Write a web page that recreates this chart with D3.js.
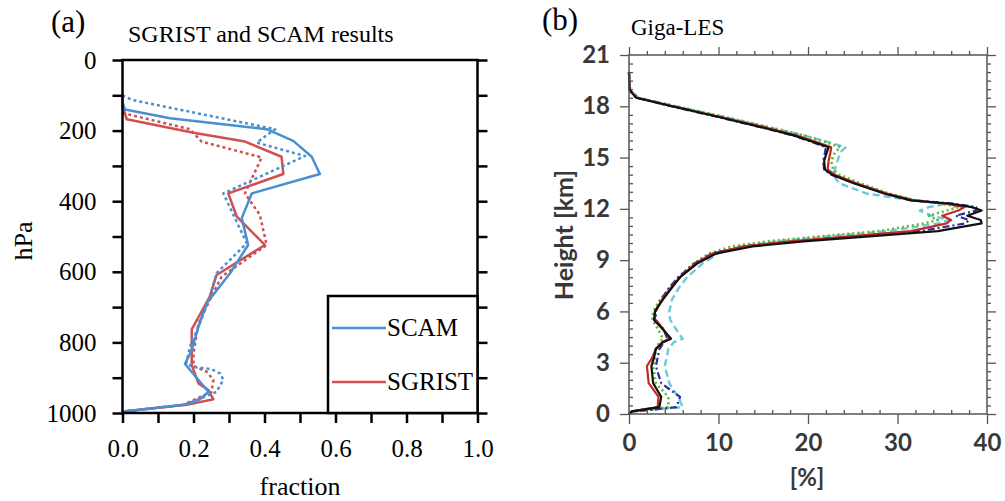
<!DOCTYPE html>
<html>
<head>
<meta charset="utf-8">
<script src="https://cdn.jsdelivr.net/npm/d3@7"></script>
<style>
  body { margin: 0; background: #fff; }
</style>
</head>
<body>
<div id="chart"></div>
<script>
// ---- panel (a) data: pressure levels (hPa) and cloud fraction ----
const scamSolidP = [100, 120, 140, 165, 196, 229, 274, 323, 378, 448, 524, 604, 689, 755, 822, 861, 940, 961, 977, 996, 1000];
const scamSolidF = [0, 0, 0.007, 0.134, 0.406, 0.481, 0.533, 0.556, 0.364, 0.336, 0.354, 0.303, 0.237, 0.214, 0.195, 0.176, 0.242, 0.218, 0.171, 0.002, 0];

const scamDotP = [100, 113, 137, 196, 234, 272, 378, 519, 604, 670, 746, 812, 861, 870, 876, 888, 906, 940, 975, 996, 1000];
const scamDotF = [0, 0.026, 0.143, 0.43, 0.378, 0.514, 0.284, 0.35, 0.265, 0.246, 0.218, 0.19, 0.179, 0.204, 0.251, 0.275, 0.284, 0.265, 0.181, 0.002, 0];

const sgristSolidP = [125, 142, 168, 206, 231, 274, 323, 378, 444, 524, 609, 670, 763, 864, 916, 935, 961, 977, 996, 1000];
const sgristSolidF = [0, 0.004, 0.012, 0.2, 0.345, 0.448, 0.453, 0.298, 0.322, 0.401, 0.265, 0.246, 0.195, 0.195, 0.214, 0.242, 0.256, 0.181, 0.002, 0];

const sgristDotP = [130, 151, 196, 231, 276, 378, 439, 524, 614, 680, 746, 831, 867, 883, 906, 940, 977, 996, 1000];
const sgristDotF = [0, 0.004, 0.19, 0.223, 0.392, 0.345, 0.387, 0.406, 0.279, 0.246, 0.214, 0.2, 0.2, 0.237, 0.256, 0.251, 0.171, 0.002, 0];

const aXTicks = [0, 0.1, 0.2, 0.3, 0.4, 0.5, 0.6, 0.7, 0.8, 0.9, 1.0];
const aXLabels = [0, 0.2, 0.4, 0.6, 0.8, 1.0];
const aYTicks = [0, 100, 200, 300, 400, 500, 600, 700, 800, 900, 1000];
const aYLabels = [0, 200, 400, 600, 800, 1000];
const legendNames = ["SCAM", "SGRIST"];

// ---- panel (b) data: height (km) and cloud fraction (%) ----
const bHeights = [20, 19, 18.8, 18.5, 18, 17.4, 16.7, 16.3, 15.9, 15.6, 15.3, 14.8, 14.3, 14, 13.5, 12.9, 12.5, 12.3, 12.1, 11.9, 11.6, 11.35, 11.15, 10.7, 10.4, 10.1, 9.8, 9.4, 8.8, 8, 7.4, 6.7, 6, 5.5, 5, 4.4, 4.2, 3.8, 3.3, 2.8, 1.8, 1, 0.4, 0.15, 0];
const bBlack = [0, 0.05, 0.3, 0.8, 4.8, 9.8, 15.4, 18.4, 20.7, 22.3, 22.1, 21.8, 21.9, 22.7, 25.1, 28.5, 31.5, 36.0, 38.3, 39.4, 37.8, 39.3, 39.4, 34.5, 27.2, 19.5, 13.8, 9.8, 7.6, 5.7, 4.8, 3.8, 2.9, 2.8, 3.7, 4.7, 3.8, 3.0, 2.8, 2.5, 2.7, 3.6, 3.4, 0.3, 0];
const bRed = [0, 0.05, 0.3, 0.9, 4.9, 10.0, 15.7, 18.7, 21.0, 22.6, 22.5, 22.3, 22.2, 23.0, 25.4, 28.8, 31.8, 35.5, 37.5, 36.8, 35.0, 36.0, 35.5, 31.5, 25.0, 18.0, 12.8, 9.4, 7.4, 5.7, 4.7, 3.7, 2.9, 2.9, 3.8, 4.5, 3.7, 3.0, 2.6, 2.0, 2.2, 3.3, 3.2, 0.3, 0];
const bBlue = [0, 0.05, 0.3, 0.8, 4.7, 9.7, 15.3, 18.3, 20.5, 22.0, 21.9, 21.7, 21.8, 22.6, 25.2, 28.7, 31.8, 36.3, 38.8, 38.8, 36.5, 38.0, 37.6, 32.5, 25.5, 18.2, 12.8, 9.3, 7.3, 5.5, 4.5, 3.6, 3.0, 3.0, 3.8, 4.3, 3.9, 3.4, 3.2, 3.0, 3.6, 5.7, 5.3, 0.5, 0];
const bGreen = [0, 0.1, 0.4, 1.0, 5.2, 10.5, 16.3, 19.5, 22.0, 23.6, 23.0, 22.6, 22.8, 23.5, 25.8, 29.0, 32.0, 35.0, 36.8, 35.5, 33.5, 34.5, 33.0, 28.0, 21.5, 15.5, 11.5, 9.0, 7.2, 5.5, 4.6, 3.5, 2.7, 2.6, 3.2, 3.8, 3.4, 3.0, 2.9, 2.7, 3.0, 4.4, 4.4, 0.4, 0];
const bCyan = [0, 0.1, 0.4, 1.1, 5.3, 10.4, 16.2, 19.5, 22.3, 24.2, 23.6, 23.3, 23.0, 22.8, 23.5, 26.5, 31.5, 35.5, 33.5, 32.5, 33.8, 35.8, 34.5, 29.0, 22.5, 16.5, 12.5, 10.0, 8.2, 6.5, 5.6, 4.8, 4.5, 4.6, 5.2, 6.0, 5.0, 4.4, 4.2, 4.0, 4.5, 5.5, 6.0, 0.5, 0];

const bXTicks = [0, 10, 20, 30, 40];
const bXMinor = [2, 4, 6, 8, 12, 14, 16, 18, 22, 24, 26, 28, 32, 34, 36, 38];
const bYTicks = [0, 3, 6, 9, 12, 15, 18, 21];
const bYMinor = [0.5, 1, 1.5, 2, 2.5, 3.5, 4, 4.5, 5, 5.5, 6.5, 7, 7.5, 8, 8.5, 9.5, 10, 10.5, 11, 11.5, 12.5, 13, 13.5, 14, 14.5, 15.5, 16, 16.5, 17, 17.5, 18.5, 19, 19.5, 20, 20.5];

const serif = "'Liberation Serif', 'Times New Roman', serif";
const sans = "Lato, 'Open Sans', sans-serif";
const blue = "#4a8fd0";
const red = "#d14f4f";

const svg = d3.select("#chart").append("svg")
  .attr("width", 1005)
  .attr("height", 501)
  .style("background", "#fff");

// ================= Panel (a) =================
const xA = d3.scaleLinear().domain([0, 1]).range([122.5, 477.5]);
const yA = d3.scaleLinear().domain([0, 1000]).range([60, 413]);
const gA = svg.append("g");

function styleAxisA(g) {
  g.select(".domain").remove();
  g.selectAll("line").attr("stroke", "#000").attr("stroke-width", 2.5);
  g.selectAll("text").attr("fill", "#000").style("font-family", serif).style("font-size", "25px");
}

gA.append("g").attr("transform", "translate(122.5,0)")
  .call(d3.axisLeft(yA).tickValues(aYTicks).tickSize(10).tickPadding(16)
    .tickFormat(d => aYLabels.includes(d) ? d : ""))
  .call(styleAxisA);

gA.append("g").attr("transform", "translate(477.5,0)")
  .call(d3.axisRight(yA).tickValues(aYTicks).tickSize(10).tickFormat(""))
  .call(styleAxisA);

gA.append("g").attr("transform", "translate(0,413)")
  .call(d3.axisBottom(xA).tickValues(aXTicks).tickSize(10).tickPadding(16)
    .tickFormat(d => aXLabels.some(v => Math.abs(v - d) < 1e-9) ? d3.format(".1f")(d) : ""))
  .call(styleAxisA);

// profiles
const lineA = d3.line().x(d => xA(d[1])).y(d => yA(d[0]));
const seriesA = [
  {p: sgristDotP, f: sgristDotF, color: red, dash: "3,3"},
  {p: sgristSolidP, f: sgristSolidF, color: red, dash: null},
  {p: scamDotP, f: scamDotF, color: blue, dash: "3,3"},
  {p: scamSolidP, f: scamSolidF, color: blue, dash: null}
];
seriesA.forEach(s => {
  gA.append("path")
    .datum(d3.zip(s.p, s.f))
    .attr("d", lineA)
    .attr("fill", "none")
    .attr("stroke", s.color)
    .attr("stroke-width", 2.5)
    .attr("stroke-dasharray", s.dash)
    .attr("stroke-linejoin", "round");
});

// frame
gA.append("rect")
  .attr("x", xA(0)).attr("y", yA(0))
  .attr("width", xA(1) - xA(0)).attr("height", yA(1000) - yA(0))
  .attr("fill", "none").attr("stroke", "#000").attr("stroke-width", 2.5);

// legend
const legA = gA.append("g");
legA.append("rect")
  .attr("x", 328).attr("y", 296)
  .attr("width", xA(1) - 328).attr("height", yA(1000) - 296)
  .attr("fill", "#fff").attr("stroke", "#000").attr("stroke-width", 2.5);
legendNames.forEach((name, i) => {
  const ly = 328 + i * 54;
  legA.append("line")
    .attr("x1", 332).attr("x2", 386).attr("y1", ly).attr("y2", ly)
    .attr("stroke", i === 0 ? blue : red).attr("stroke-width", 2.5);
  legA.append("text")
    .attr("x", 387).attr("y", ly + 8)
    .style("font-family", serif).style("font-size", "25px")
    .text(name);
});

// labels
gA.append("text").attr("x", 51).attr("y", 32)
  .style("font-family", serif).style("font-size", "31px").text("(a)");
gA.append("text").attr("x", 128).attr("y", 42)
  .style("font-family", serif).style("font-size", "24px").text("SGRIST and SCAM results");
gA.append("text").attr("transform", "translate(32,241) rotate(-90)")
  .attr("text-anchor", "middle")
  .style("font-family", serif).style("font-size", "26px").text("hPa");
gA.append("text").attr("x", 300).attr("y", 495)
  .attr("text-anchor", "middle")
  .style("font-family", serif).style("font-size", "26px").text("fraction");

// ================= Panel (b) =================
const xB = d3.scaleLinear().domain([0, 40]).range([629, 987]);
const yB = d3.scaleLinear().domain([0, 21]).range([414, 55]);
const gB = svg.append("g");
const axisGrey = "#555";

function styleAxisB(g) {
  g.select(".domain").remove();
  g.selectAll("line").attr("stroke", axisGrey).attr("stroke-width", 1.3);
  g.selectAll("text").attr("fill", "#383838").style("font-family", sans)
    .style("font-size", "24px").style("font-weight", "bold");
}

// major ticks, outward
gB.append("g").attr("transform", "translate(629,0)")
  .call(d3.axisLeft(yB).tickValues(bYTicks).tickSize(9).tickPadding(10))
  .call(styleAxisB);
gB.append("g").attr("transform", "translate(987,0)")
  .call(d3.axisRight(yB).tickValues(bYTicks).tickSize(9).tickFormat(""))
  .call(styleAxisB);
gB.append("g").attr("transform", "translate(0,414)")
  .call(d3.axisBottom(xB).tickValues(bXTicks).tickSize(10).tickPadding(10))
  .call(styleAxisB);
gB.append("g").attr("transform", "translate(0,55)")
  .call(d3.axisTop(xB).tickValues(bXTicks).tickSize(8).tickFormat(""))
  .call(styleAxisB);

// minor ticks
gB.append("g").attr("transform", "translate(629,0)")
  .call(d3.axisLeft(yB).tickValues(bYMinor).tickSize(-4).tickFormat(""))
  .call(styleAxisB);
gB.append("g").attr("transform", "translate(987,0)")
  .call(d3.axisRight(yB).tickValues(bYMinor).tickSize(4).tickFormat(""))
  .call(styleAxisB);
gB.append("g").attr("transform", "translate(0,414)")
  .call(d3.axisBottom(xB).tickValues(bXMinor).tickSize(-4).tickFormat(""))
  .call(styleAxisB);
gB.append("g").attr("transform", "translate(0,55)")
  .call(d3.axisTop(xB).tickValues(bXMinor).tickSize(4).tickFormat(""))
  .call(styleAxisB);

// profiles
const lineB = d3.line().x(d => xB(d[1])).y(d => yB(d[0]));
const seriesB = [
  {v: bCyan, color: "#6cc9dc", dash: "7,4", w: 2.4},
  {v: bGreen, color: "#5cb83c", dash: "2,3", w: 2.6},
  {v: bBlue, color: "#2b2f9e", dash: "7,3,2,3", w: 2.2},
  {v: bRed, color: "#c42a1e", dash: null, w: 2.2},
  {v: bBlack, color: "#111", dash: null, w: 2.2}
];
seriesB.forEach(s => {
  gB.append("path")
    .datum(d3.zip(bHeights, s.v))
    .attr("d", lineB)
    .attr("fill", "none")
    .attr("stroke", s.color)
    .attr("stroke-width", s.w)
    .attr("stroke-dasharray", s.dash)
    .attr("stroke-linejoin", "round");
});

// frame
gB.append("rect")
  .attr("x", xB(0)).attr("y", yB(21))
  .attr("width", xB(40) - xB(0)).attr("height", yB(0) - yB(21))
  .attr("fill", "none").attr("stroke", axisGrey).attr("stroke-width", 1.5);

// labels
gB.append("text").attr("x", 542).attr("y", 30)
  .style("font-family", serif).style("font-size", "31px").text("(b)");
gB.append("text").attr("x", 631).attr("y", 35)
  .style("font-family", serif).style("font-size", "23px").text("Giga-LES");
gB.append("text").attr("transform", "translate(573,235) rotate(-90)")
  .attr("text-anchor", "middle").attr("fill", "#383838")
  .style("font-family", sans).style("font-size", "25px").style("font-weight", "bold")
  .text("Height [km]");
gB.append("text").attr("x", 807).attr("y", 486)
  .attr("text-anchor", "middle").attr("fill", "#383838")
  .style("font-family", sans).style("font-size", "24px").style("font-weight", "bold")
  .text("[%]");
</script>
</body>
</html>
